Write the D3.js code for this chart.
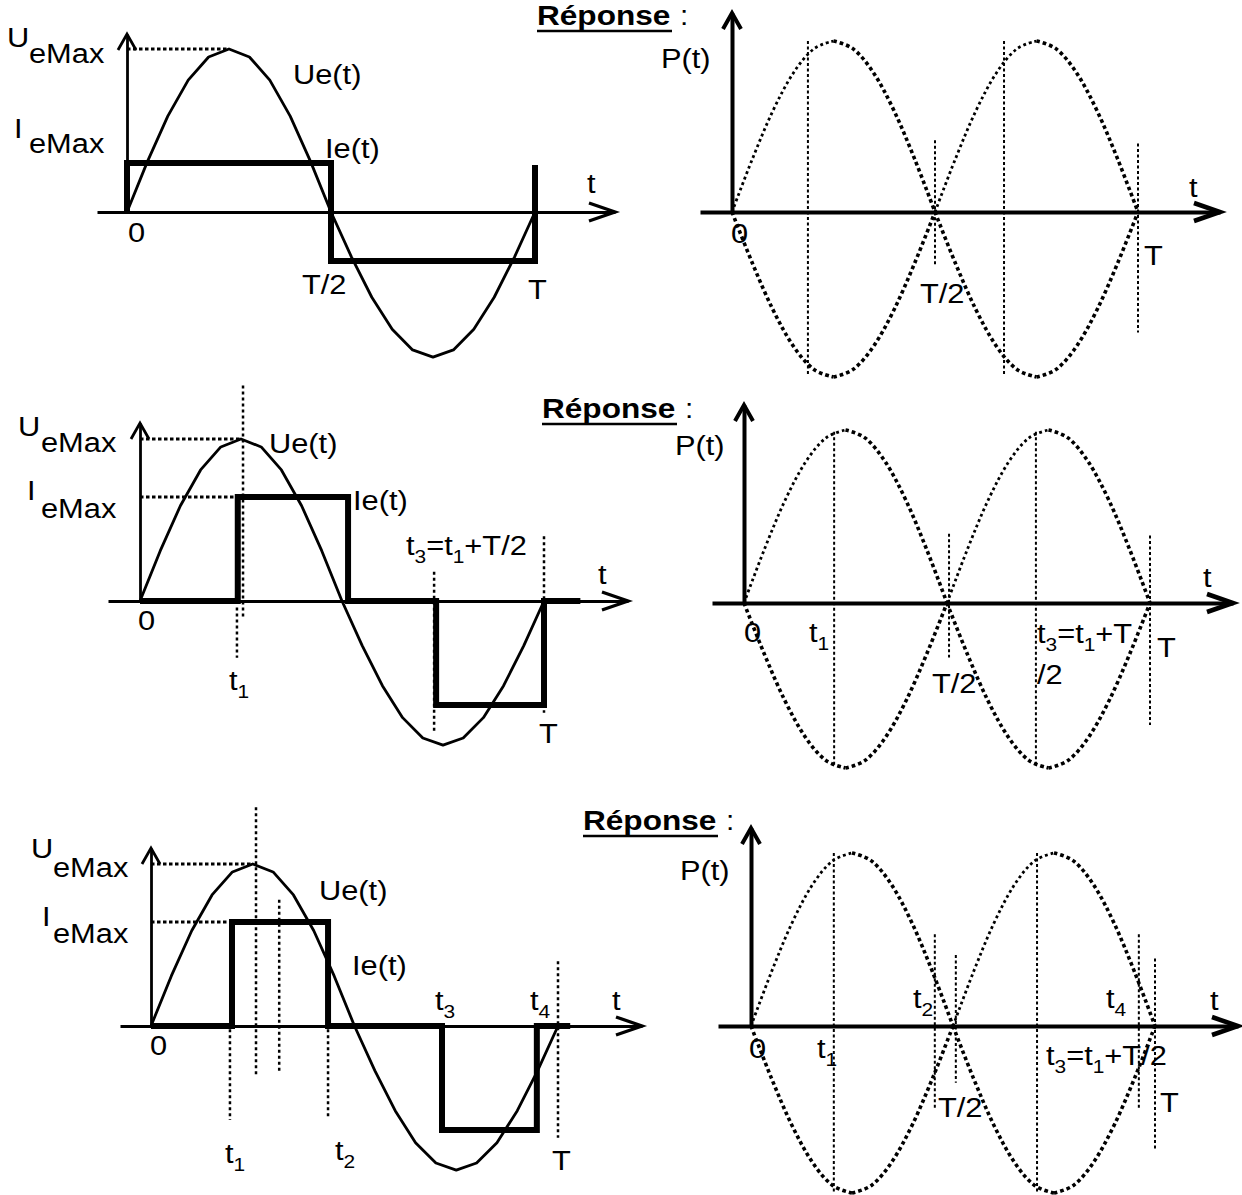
<!DOCTYPE html>
<html>
<head>
<meta charset="utf-8">
<script src="https://cdn.jsdelivr.net/npm/d3@7"></script>
<style>
  html, body { margin: 0; padding: 0; background: #fff; }
  svg { display: block; }
</style>
</head>
<body>
<script>
// ---------- values ----------
// sampling instants over one period, in units of T
const phase = [0, 0.05, 0.1, 0.15, 0.2, 0.25, 0.3, 0.35, 0.4, 0.45, 0.5,
               0.55, 0.6, 0.65, 0.7, 0.75, 0.8, 0.85, 0.9, 0.95, 1];
// Ue(t) in units of UeMax (the negative half-wave is drawn a little flatter)
const ueValues = [0, 0.309, 0.588, 0.809, 0.951, 1, 0.951, 0.809, 0.588, 0.309, 0,
                  -0.275, -0.523, -0.72, -0.846, -0.89, -0.846, -0.72, -0.523, -0.275, 0];
// P(t) trace in units of its crest; the mirror trace is its negative
const pValues = [0, 0.309, 0.588, 0.809, 0.951, 1, 0.951, 0.809, 0.588, 0.309, 0,
                 -0.309, -0.588, -0.809, -0.951, -1, -0.951, -0.809, -0.588, -0.309, 0];

// Ie(t) breakpoints: [t/T, Ie/IeMax]
const ieFull    = [[0, 0], [0, 1], [0.5, 1], [0.5, -1], [1, -1], [1, 0.96]];
const ieDelayed = [[0, 0], [0.242, 0], [0.242, 1], [0.515, 1], [0.515, 0], [0.733, 0],
                   [0.733, -1], [1, -1], [1, 0], [1.09, 0]];
const ieWindow  = [[0, 0], [0.199, 0], [0.199, 1], [0.435, 1], [0.435, 0], [0.715, 0],
                   [0.715, -1], [0.948, -1], [0.948, 0], [1.03, 0]];

// vertical dotted markers: [t/T, top, bottom] in crest units
const uMarks2 = [[0.255, 1.33, -0.10], [0.240, -0.04, -0.35], [0.728, 0.18, -0.815], [1, 0.40, -0.69]];
const uMarks3 = [[0.258, 1.35, -0.30], [0.315, 0.78, -0.29], [0.194, -0.02, -0.58],
                 [0.435, -0.02, -0.57], [1, 0.40, -0.69]];
const pMarks1 = [[0.187, 1, -0.99], [0.5, 0.42, -0.33], [0.67, 1, -0.99], [1, 0.40, -0.73]];
const pMarks2 = [[0.222, 0.99, -0.99], [0.505, 0.40, -0.33], [0.719, 0.99, -0.99], [1, 0.39, -0.74]];
const pMarks3 = [[0.205, 1, -1], [0.455, 0.53, -0.50], [0.507, 0.41, -0.34], [0.708, 1, -1],
                 [0.96, 0.53, -0.50], [1, 0.39, -0.74]];

// ---------- layout ----------
const W = 1242, H = 1195;
const FONT = "'Liberation Sans', Arial, sans-serif";
const SX = 1.1;

const leftPanels = [
  { x0: 127, T: 408, axisY: 212, ueAmp: 163, ieAmp: 49, axisX: [97, 615], yTop: 34,
    ie: ieFull, marks: [], ieGuide: null,
    labels: [["U", 7, 47], ["eMax", 29, 63], ["I", 14, 138], ["eMax", 29, 153],
             ["Ue(t)", 293, 84], ["Ie(t)", 325, 158], ["t", 587, 193],
             ["0", 128, 242], ["T/2", 302, 294], ["T", 528, 299]] },
  { x0: 140, T: 404, axisY: 601, ueAmp: 162, ieAmp: 104, axisX: [108, 628], yTop: 423,
    ie: ieDelayed, marks: uMarks2, ieGuide: 0.242,
    labels: [["U", 18, 436], ["eMax", 41, 452], ["I", 27, 500], ["eMax", 41, 518],
             ["Ue(t)", 269, 453], ["Ie(t)", 353, 510], ["t{3}=t{1}+T/2", 406, 555],
             ["t", 598, 584], ["0", 138, 630], ["t{1}", 229, 690], ["T", 539, 743]] },
  { x0: 151, T: 407, axisY: 1026, ueAmp: 162, ieAmp: 104, axisX: [120, 642], yTop: 848,
    ie: ieWindow, marks: uMarks3, ieGuide: 0.199,
    labels: [["U", 31, 858], ["eMax", 53, 877], ["I", 42, 926], ["eMax", 53, 943],
             ["Ue(t)", 319, 900], ["Ie(t)", 352, 975], ["t{3}", 435, 1010], ["t{4}", 530, 1010],
             ["t", 612, 1010], ["0", 150, 1055], ["t{1}", 225, 1163], ["t{2}", 335, 1160],
             ["T", 552, 1170]] }
];

const rightPanels = [
  { x0: 732, T: 406, axisY: 212, up: 171, down: 165, axisX: [700, 1220], yTop: 13,
    marks: pMarks1, head: [537, 25],
    labels: [["P(t)", 661, 68], ["t", 1189, 197], ["0", 731, 243], ["T/2", 920, 303], ["T", 1144, 265]] },
  { x0: 744, T: 406, axisY: 603, up: 173, down: 165, axisX: [712, 1233], yTop: 405,
    marks: pMarks2, head: [542, 418],
    labels: [["P(t)", 675, 455], ["t", 1203, 587], ["0", 744, 642], ["t{1}", 809, 642],
             ["T/2", 932, 693], ["t{3}=t{1}+T", 1037, 643], ["/2", 1037, 684], ["T", 1157, 657]] },
  { x0: 751, T: 404, axisY: 1026, up: 173, down: 167, axisX: [718, 1238], yTop: 828,
    marks: pMarks3, head: [583, 830],
    labels: [["P(t)", 680, 880], ["t", 1210, 1010], ["t{2}", 913, 1008], ["t{4}", 1106, 1008],
             ["0", 749, 1058], ["t{1}", 817, 1058], ["t{3}=t{1}+T/2", 1046, 1065],
             ["T/2", 938, 1117], ["T", 1160, 1112]] }
];

const svg = d3.select("body").append("svg")
  .attr("width", W).attr("height", H).attr("viewBox", `0 0 ${W} ${H}`);
svg.append("rect").attr("width", W).attr("height", H).attr("fill", "#fff");

// text with {..} subscripts
function label(g, s, x, y, opts = {}) {
  const size = opts.size || 28;
  const t = g.append("text")
    .attr("transform", `translate(${x},${y}) scale(${opts.sx || SX},1)`)
    .attr("font-family", FONT).attr("font-size", size)
    .attr("font-weight", opts.weight || "normal").attr("fill", "#000");
  const parts = s.split(/(\{[^}]*\})/).filter(p => p.length);
  let shifted = false;
  parts.forEach(p => {
    if (p.startsWith("{")) {
      t.append("tspan").attr("font-size", 19).attr("dy", 8).text(p.slice(1, -1));
      shifted = true;
    } else {
      const ts = t.append("tspan").text(p);
      if (shifted) { ts.attr("dy", -8); shifted = false; }
    }
  });
  return t;
}

function xAxisArrow(g, x0, x1, y, w) {
  const sc = d3.scaleLinear().domain([0, 1]).range([x0, x1]);
  const ax = g.append("g").attr("transform", `translate(0,${y})`)
    .call(d3.axisBottom(sc).tickValues([]).tickSizeOuter(0));
  ax.select(".domain").attr("stroke", "#000").attr("stroke-width", w);
  g.append("path")
    .attr("d", `M${x1 - 26},${y - 9} L${x1},${y} L${x1 - 26},${y + 9}`)
    .attr("fill", "none").attr("stroke", "#000").attr("stroke-width", w + 0.5);
}

function yAxisArrow(g, x, y0, y1, w) {
  const sc = d3.scaleLinear().domain([0, 1]).range([y0, y1]);
  const ax = g.append("g").attr("transform", `translate(${x},0)`)
    .call(d3.axisLeft(sc).tickValues([]).tickSizeOuter(0));
  ax.select(".domain").attr("stroke", "#000").attr("stroke-width", w);
  g.append("path")
    .attr("d", `M${x - 9},${y1 + 16} L${x},${y1} L${x + 9},${y1 + 16}`)
    .attr("fill", "none").attr("stroke", "#000").attr("stroke-width", w);
}

// ---------- Ue(t) / Ie(t) panels ----------
leftPanels.forEach(cfg => {
  const g = svg.append("g");
  const x = d3.scaleLinear().domain([0, 1]).range([cfg.x0, cfg.x0 + cfg.T]);
  const yU = d3.scaleLinear().domain([-1, 1]).range([cfg.axisY + cfg.ueAmp, cfg.axisY - cfg.ueAmp]);
  const yI = d3.scaleLinear().domain([-1, 1]).range([cfg.axisY + cfg.ieAmp, cfg.axisY - cfg.ieAmp]);

  // dotted guides
  const guide = g.append("g").attr("stroke", "#000").attr("fill", "none");
  guide.append("line")
    .attr("x1", x(0)).attr("x2", x(0.25)).attr("y1", yU(1)).attr("y2", yU(1))
    .attr("stroke-width", 3).attr("stroke-dasharray", "3.5,2.5");
  if (cfg.ieGuide !== null) {
    guide.append("line")
      .attr("x1", x(0)).attr("x2", x(cfg.ieGuide)).attr("y1", yI(1)).attr("y2", yI(1))
      .attr("stroke-width", 3).attr("stroke-dasharray", "3.5,2.5");
  }
  guide.selectAll("line.v").data(cfg.marks).join("line").attr("class", "v")
    .attr("x1", d => x(d[0])).attr("x2", d => x(d[0]))
    .attr("y1", d => yU(d[1])).attr("y2", d => yU(d[2]))
    .attr("stroke-width", 2.5).attr("stroke-dasharray", "3,3");

  // axes
  xAxisArrow(g, cfg.axisX[0], cfg.axisX[1], cfg.axisY, 2.8);
  yAxisArrow(g, x(0), cfg.axisY, cfg.yTop, 2.8);

  // Ue(t)
  g.append("path")
    .datum(phase.map((t, i) => [t, ueValues[i]]))
    .attr("d", d3.line().x(d => x(d[0])).y(d => yU(d[1])).curve(d3.curveLinear))
    .attr("fill", "none").attr("stroke", "#000").attr("stroke-width", 2.8)
    .attr("stroke-linejoin", "round");

  // Ie(t)
  g.append("path")
    .datum(cfg.ie)
    .attr("d", d3.line().x(d => x(d[0])).y(d => yI(d[1])))
    .attr("fill", "none").attr("stroke", "#000").attr("stroke-width", 6)
    .attr("stroke-linejoin", "miter").attr("stroke-linecap", "butt");

  cfg.labels.forEach(l => label(g, l[0], l[1], l[2]));
});

// ---------- P(t) panels ----------
// quarter-period pieces: rising part of each upper arch is drawn finer
const quarters = [[0, 5], [5, 10], [10, 15], [15, 20]];
rightPanels.forEach(cfg => {
  const g = svg.append("g");
  const x = d3.scaleLinear().domain([0, 1]).range([cfg.x0, cfg.x0 + cfg.T]);
  const y = d3.scaleLinear().domain([-1, 0, 1]).range([cfg.axisY + cfg.down, cfg.axisY, cfg.axisY - cfg.up]);

  // heading
  const hx = cfg.head[0], hy = cfg.head[1];
  label(g, "Réponse", hx, hy, { size: 27, weight: "bold", sx: 1.17 });
  g.append("line").attr("x1", hx).attr("x2", hx + 135).attr("y1", hy + 6).attr("y2", hy + 6)
    .attr("stroke", "#000").attr("stroke-width", 2.5);
  label(g, ":", hx + 143, hy, { size: 27 });

  // vertical dotted markers
  g.append("g").selectAll("line").data(cfg.marks).join("line")
    .attr("x1", d => x(d[0])).attr("x2", d => x(d[0]))
    .attr("y1", d => y(d[1])).attr("y2", d => y(d[2]))
    .attr("stroke", "#000").attr("stroke-width", 2).attr("stroke-dasharray", "3,2.5");

  // axes
  xAxisArrow(g, cfg.axisX[0], cfg.axisX[1], cfg.axisY, 4);
  yAxisArrow(g, x(0), cfg.axisY, cfg.yTop, 4);

  // P(t) and its mirror, both dotted
  const line = d3.line().x(d => x(d[0])).y(d => y(d[1])).curve(d3.curveCardinal);
  [1, -1].forEach(sign => {
    quarters.forEach(([a, b]) => {
      const pts = phase.slice(a, b + 1).map((t, k) => [t, sign * pValues[a + k]]);
      const rising = pts[pts.length - 1][1] > pts[0][1] && pts[pts.length - 1][1] > 0;
      g.append("path").datum(pts).attr("d", line)
        .attr("fill", "none").attr("stroke", "#000")
        .attr("stroke-width", rising ? 2.8 : 3.6)
        .attr("stroke-dasharray", rising ? "2.8,3" : "3.6,3");
    });
  });

  cfg.labels.forEach(l => label(g, l[0], l[1], l[2]));
});
</script>
</body>
</html>
